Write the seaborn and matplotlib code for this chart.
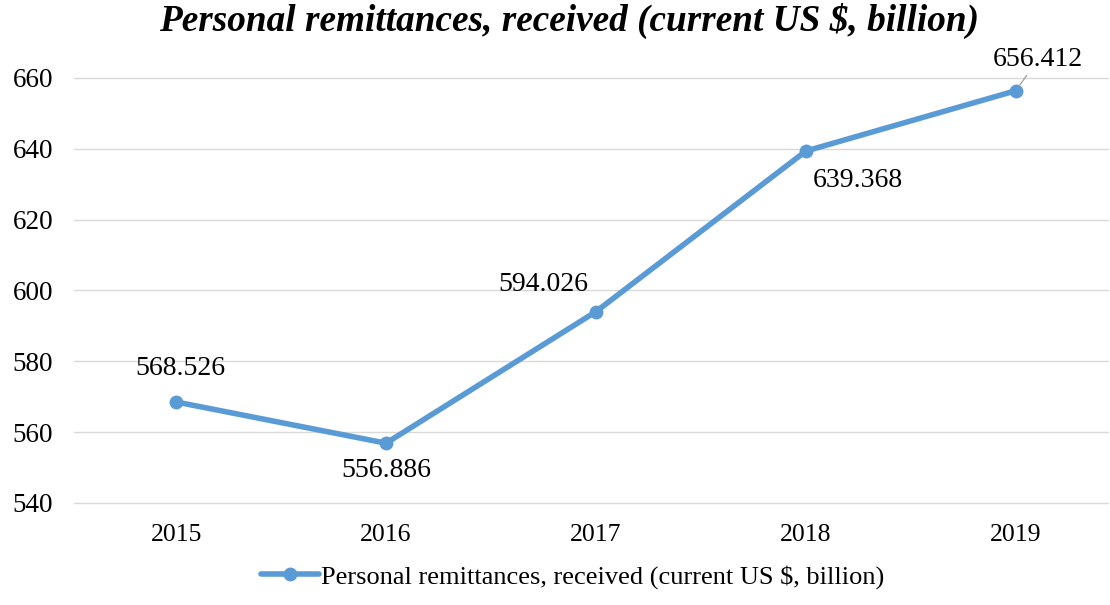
import pandas as pd
import matplotlib
matplotlib.use("Agg")
import matplotlib.pyplot as plt
import seaborn as sns

# chart data
years = ["2015", "2016", "2017", "2018", "2019"]
remittances = [568.526, 556.886, 594.026, 639.368, 656.412]
series_name = "Personal remittances, received (current US $, billion)"
y_ticks = [540, 560, 580, 600, 620, 640, 660]

df = pd.DataFrame({"Year": years, "Value": remittances})

sns.set_style("white")
plt.rcParams["font.family"] = ["Liberation Serif", "DejaVu Serif"]
plt.rcParams["text.color"] = "black"

blue = "#5B9BD5"
fig = plt.figure(figsize=(11.1, 6.05), dpi=100)
ax = fig.add_axes([0.0667, 0.1686, 0.9313, 0.7025])

sns.lineplot(data=df, x="Year", y="Value", ax=ax, color=blue, linewidth=4,
             marker="o", markersize=10, markeredgewidth=0, label=series_name,
             legend=False)

ax.set_ylim(540, 660)
ax.set_xlim(-0.486, 4.438)
ax.set_yticks(y_ticks)
ax.grid(axis="y", color="#D9D9D9", linewidth=1)
ax.set_axisbelow(True)
for g in ax.get_ygridlines():
    g.set_clip_on(False)
for s in ax.spines.values():
    s.set_visible(False)
ax.tick_params(axis="y", length=0, pad=15, labelsize=19.5, labelcolor="black")
ax.tick_params(axis="x", length=0, pad=15, labelsize=18.5, labelcolor="black")
ax.set_xlabel("")
ax.set_ylabel("")

# data labels (pixel offsets from each point)
offsets = [(4, 33), (0, -27), (-53, 27), (52, -29), (22, 31)]
for i, (yr, v) in enumerate(zip(years, remittances)):
    dx, dy = offsets[i]
    kw = {}
    if i == 4:
        kw["arrowprops"] = dict(arrowstyle="-", color="#A6A6A6", lw=1,
                                shrinkA=0, shrinkB=5)
    ax.annotate(f"{v:.3f}", (i, v), xytext=(dx, dy), textcoords="offset pixels",
                ha="center", va="center", fontsize=20, color="black", **kw)

fig.suptitle("Personal remittances, received (current US $, billion)",
             x=0.513, y=0.995, va="top", fontsize=26.8, fontweight="bold",
             fontstyle="italic")

handles, labels = ax.get_legend_handles_labels()
fig.legend(handles, labels, loc="lower center", bbox_to_anchor=(0.516, -0.012),
           frameon=False, fontsize=19, handlelength=2.2, handletextpad=0.1)

fig.savefig("out.png", dpi=100)
